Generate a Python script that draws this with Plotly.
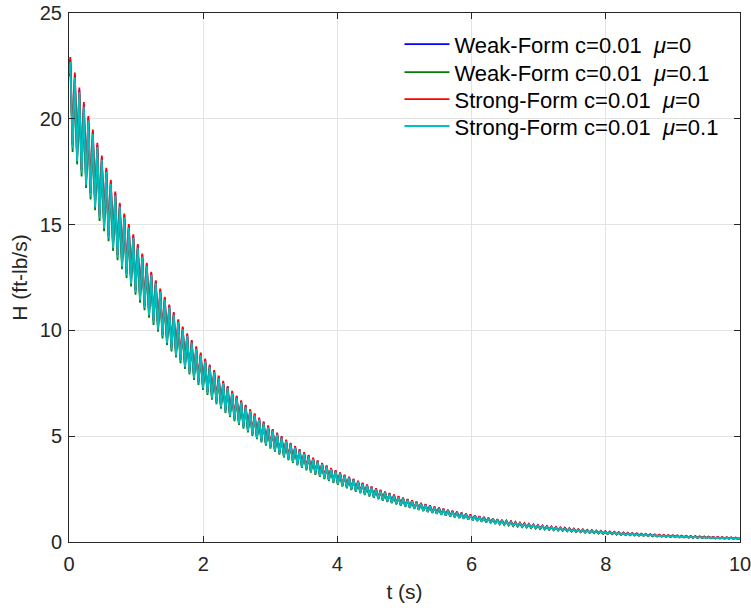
import numpy as np
import plotly.graph_objects as go

# Envelope values (peaks / troughs) at these times
t_env = [0, 0.5, 1, 1.5, 2, 2.5, 3, 3.5, 4, 5, 6, 7, 8, 9, 10]

weak0_upper = [23.02, 18.07, 14.18, 11.13, 8.74, 6.87, 5.39, 4.23, 3.33, 2.06, 1.28, 0.79, 0.50, 0.31, 0.20]
weak0_lower = [19.25, 15.12, 11.86, 9.31, 7.31, 5.73, 4.49, 3.52, 2.77, 1.70, 1.05, 0.64, 0.40, 0.24, 0.15]

weak1_upper = [22.79, 17.89, 14.03, 11.01, 8.64, 6.78, 5.32, 4.17, 3.28, 2.02, 1.25, 0.76, 0.47, 0.29, 0.18]
weak1_lower = [18.92, 14.85, 11.64, 9.13, 7.17, 5.62, 4.41, 3.45, 2.71, 1.67, 1.03, 0.62, 0.38, 0.23, 0.14]

strong0_upper = [23.14, 18.17, 14.25, 11.19, 8.79, 6.91, 5.43, 4.26, 3.35, 2.08, 1.29, 0.80, 0.51, 0.32, 0.21]
strong0_lower = [19.29, 15.14, 11.88, 9.32, 7.32, 5.74, 4.50, 3.53, 2.78, 1.71, 1.06, 0.65, 0.40, 0.25, 0.15]

strong1_upper = [22.90, 17.97, 14.09, 11.06, 8.68, 6.81, 5.35, 4.19, 3.29, 2.03, 1.25, 0.77, 0.48, 0.29, 0.18]
strong1_lower = [19.08, 14.98, 11.75, 9.22, 7.24, 5.68, 4.46, 3.49, 2.75, 1.69, 1.04, 0.64, 0.40, 0.24, 0.15]

osc_period = 0.067      # seconds between successive peaks
first_peak = 0.02

names = ["Weak-Form c=0.01\u00a0\u00a0<i>μ</i>=0",
         "Weak-Form c=0.01\u00a0\u00a0<i>μ</i>=0.1",
         "Strong-Form c=0.01\u00a0\u00a0<i>μ</i>=0",
         "Strong-Form c=0.01\u00a0\u00a0<i>μ</i>=0.1"]
colors = ["#0000FF", "#008000", "#FF0000", "#00BFBF"]
series = [(weak0_upper, weak0_lower), (weak1_upper, weak1_lower),
          (strong0_upper, strong0_lower), (strong1_upper, strong1_lower)]
legend_ids = ["legend", "legend2", "legend3", "legend4"]
legend_y = [0.9408, 0.8879, 0.8369, 0.7860]


def build(upper, lower):
    ts = [0.0]
    k = 0
    t = first_peak
    while t <= 10:
        ts.append(t)
        t = first_peak + (k + 1) * osc_period / 2
        k += 1
    ts.append(10.0)
    ts = np.array(ts)
    lu = np.exp(np.interp(ts, t_env, np.log(upper)))
    ll = np.exp(np.interp(ts, t_env, np.log(lower)))
    ys = []
    for i, tt in enumerate(ts):
        if i == 0:
            ys.append(0.5 * (lu[i] + ll[i]) + 0.3 * (lu[i] - ll[i]))
        elif i == len(ts) - 1:
            ys.append(0.5 * (lu[i] + ll[i]))
        else:
            ys.append(lu[i] if (i - 1) % 2 == 0 else ll[i])
    return ts, ys


FONT = "Liberation Sans, Arial, sans-serif"

fig = go.Figure()
for (u, l), nm, c, lg in zip(series, names, colors, legend_ids):
    x, y = build(u, l)
    fig.add_trace(go.Scatter(x=x, y=y, mode="lines", name=nm, legend=lg,
                             line=dict(color=c, width=1.8)))

axis_common = dict(
    showgrid=True, gridcolor="#e3e3e3", gridwidth=1,
    showline=True, linecolor="#262626", linewidth=1, mirror="ticks",
    ticks="inside", ticklen=6, tickcolor="#262626",
    zeroline=False, ticklabeloverflow="allow", automargin=False,
    tickfont=dict(family=FONT, size=20, color="#262626"),
)

legend_style = dict(xanchor="left", yanchor="middle", x=0.4925, itemwidth=45,
                    bgcolor="rgba(0,0,0,0)", borderwidth=0,
                    font=dict(family=FONT, size=22, color="#000000"))

fig.update_layout(
    width=751, height=608,
    margin=dict(l=69, r=11, t=13, b=66),
    paper_bgcolor="white", plot_bgcolor="white",
    font=dict(family=FONT, size=20, color="#262626"),
    xaxis=dict(range=[0, 10], tickvals=[0, 2, 4, 6, 8, 10], ticklabelstandoff=4,
               title=dict(text="t (s)", font=dict(size=21), standoff=10), **axis_common),
    yaxis=dict(range=[0, 25], tickvals=[0, 5, 10, 15, 20, 25], ticklabelstandoff=2,
               title=dict(text="H (ft-lb/s)", font=dict(size=21), standoff=6), **axis_common),
    showlegend=True,
)
for lg, ly in zip(legend_ids, legend_y):
    fig.update_layout({lg: dict(y=ly, **legend_style)})

fig.write_html("out.html")
